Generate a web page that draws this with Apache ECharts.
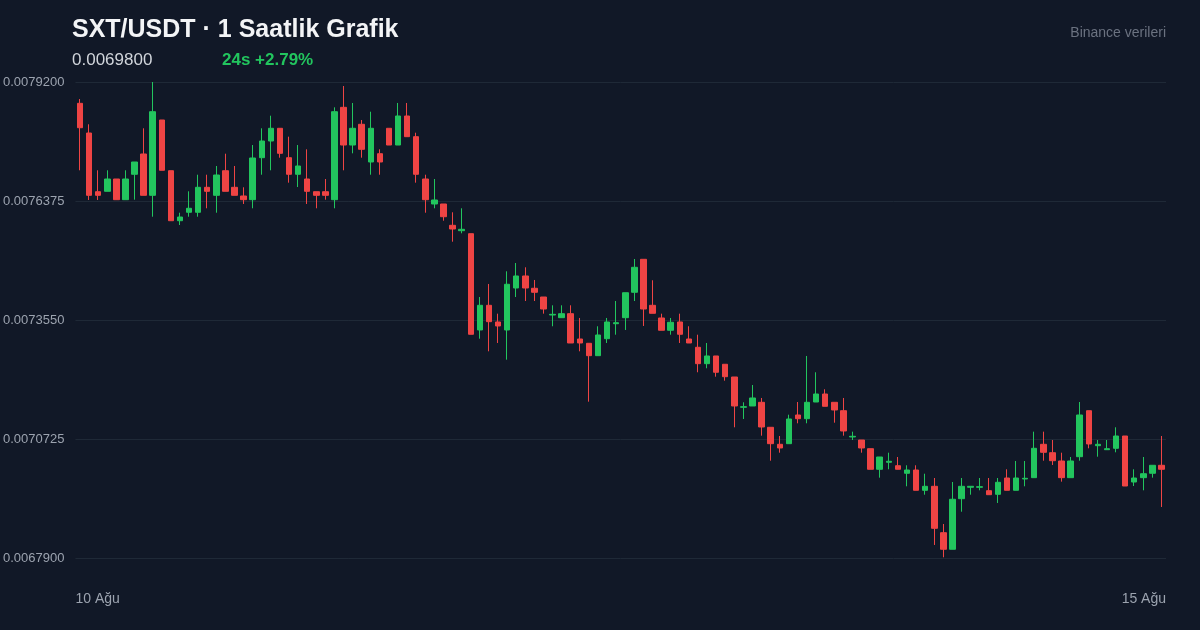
<!DOCTYPE html>
<html>
<head>
<meta charset="utf-8">
<script src="https://cdn.jsdelivr.net/npm/echarts@6/dist/echarts.min.js"></script>
<style>
html,body{margin:0;padding:0;background:#111827;}
#chart{width:1200px;height:630px;}
</style>
</head>
<body>
<div id="chart"></div>
<script>
// ---- data (hourly candles, 10 Ağu -> 15 Ağu) ----
const opens = [
0.0078694,0.0077989,0.0076596,0.0076605,0.0076897,0.0076406,0.0077009,0.0077491,0.0076510,0.0078298,
0.0077094,0.0075907,0.0076107,0.0076107,0.0076700,0.0076510,0.0077094,0.0076700,0.0076494,0.0076406,
0.0077403,0.0077799,0.0078101,0.0077403,0.0077009,0.0076897,0.0076596,0.0076596,0.0076406,0.0078599,
0.0077704,0.0078196,0.0077301,0.0077498,0.0078101,0.0077704,0.0078393,0.0077902,0.0076897,0.0076304,
0.0076304,0.0075798,0.0075670,0.0075599,0.0073313,0.0073899,0.0073503,0.0073313,0.0074310,0.0074595,
0.0074303,0.0074096,0.0073669,0.0073605,0.0073700,0.0073099,0.0072997,0.0072703,0.0073106,0.0073462,
0.0073605,0.0074208,0.0074991,0.0073899,0.0073598,0.0073306,0.0073503,0.0073099,0.0072902,0.0072513,
0.0072696,0.0072499,0.0072197,0.0071478,0.0071509,0.0071596,0.0071003,0.0070599,0.0070614,0.0071295,
0.0071207,0.0071603,0.0071793,0.0071596,0.0071397,0.0070773,0.0070701,0.0070495,0.0070006,0.0070172,
0.0070091,0.0069911,0.0069989,0.0069507,0.0069602,0.0068501,0.0068107,0.0069308,0.0069579,0.0069579,
0.0069498,0.0069412,0.0069799,0.0069507,0.0069776,0.0069807,0.0070599,0.0070400,0.0070203,0.0069807,
0.0070305,0.0071397,0.0070566,0.0070471,0.0070504,0.0070796,0.0069704,0.0069807,0.0069911,0.0070101
];
const closes = [
0.0078115,0.0076510,0.0076510,0.0076897,0.0076406,0.0076897,0.0077301,0.0076510,0.0078495,0.0077104,
0.0075907,0.0075995,0.0076202,0.0076700,0.0076605,0.0076992,0.0076605,0.0076510,0.0076406,0.0077396,
0.0077799,0.0078101,0.0077507,0.0077009,0.0077206,0.0076605,0.0076510,0.0076510,0.0078495,0.0077704,
0.0078101,0.0077602,0.0078101,0.0077301,0.0077704,0.0078393,0.0077902,0.0077009,0.0076406,0.0076399,
0.0076002,0.0075710,0.0075703,0.0073211,0.0073899,0.0073510,0.0073408,0.0074398,0.0074595,0.0074310,
0.0074208,0.0073811,0.0073685,0.0073700,0.0073004,0.0073004,0.0072703,0.0073194,0.0073503,0.0073486,
0.0074198,0.0074801,0.0073811,0.0073709,0.0073306,0.0073496,0.0073211,0.0073004,0.0072513,0.0072696,
0.0072309,0.0072204,0.0071509,0.0071492,0.0071699,0.0071010,0.0070614,0.0070512,0.0071200,0.0071207,
0.0071596,0.0071793,0.0071501,0.0071414,0.0070915,0.0070789,0.0070512,0.0070006,0.0070298,0.0070196,
0.0070006,0.0069989,0.0069507,0.0069602,0.0068605,0.0068107,0.0069294,0.0069602,0.0069602,0.0069593,
0.0069403,0.0069697,0.0069507,0.0069799,0.0069792,0.0070504,0.0070409,0.0070210,0.0069807,0.0070203,
0.0071295,0.0070607,0.0070599,0.0070495,0.0070796,0.0069609,0.0069799,0.0069901,0.0070101,0.0070006
];
const lows = [
0.0077104,0.0076399,0.0076399,0.0076605,0.0076406,0.0076406,0.0076406,0.0076510,0.0076002,0.0077104,
0.0075907,0.0075805,0.0076002,0.0076002,0.0076202,0.0076097,0.0076605,0.0076510,0.0076304,0.0076202,
0.0076999,0.0077104,0.0077403,0.0076810,0.0076707,0.0076304,0.0076202,0.0076406,0.0076202,0.0077104,
0.0077507,0.0077403,0.0076999,0.0076999,0.0077704,0.0077704,0.0077902,0.0076810,0.0076097,0.0076202,
0.0075907,0.0075409,0.0075608,0.0073211,0.0073106,0.0072807,0.0073004,0.0072608,0.0074096,0.0074001,
0.0074001,0.0073700,0.0073401,0.0073605,0.0073004,0.0072807,0.0071611,0.0072703,0.0073004,0.0073201,
0.0073313,0.0074001,0.0073408,0.0073709,0.0073306,0.0073201,0.0073004,0.0073004,0.0072309,0.0072404,
0.0072204,0.0072109,0.0071003,0.0071200,0.0071509,0.0070804,0.0070210,0.0070400,0.0070614,0.0071098,
0.0071098,0.0071603,0.0071501,0.0071112,0.0070804,0.0070701,0.0070400,0.0070006,0.0069807,0.0070006,
0.0070006,0.0069602,0.0069507,0.0069403,0.0068209,0.0067917,0.0068107,0.0068999,0.0069403,0.0069507,
0.0069403,0.0069206,0.0069507,0.0069507,0.0069602,0.0069807,0.0070210,0.0070108,0.0069712,0.0069807,
0.0070210,0.0070504,0.0070305,0.0070471,0.0070409,0.0069609,0.0069609,0.0069507,0.0069807,0.0069111
];
const highs = [
0.0078796,0.0078196,0.0077104,0.0077104,0.0076897,0.0077104,0.0077301,0.0078101,0.0079200,0.0078298,
0.0077094,0.0076097,0.0076605,0.0076999,0.0076999,0.0077206,0.0077498,0.0077206,0.0076700,0.0077704,
0.0078101,0.0078400,0.0078101,0.0077902,0.0077704,0.0077602,0.0076596,0.0076897,0.0078599,0.0079105,
0.0078702,0.0078298,0.0078495,0.0077602,0.0078101,0.0078702,0.0078702,0.0077996,0.0076999,0.0076897,
0.0076304,0.0076107,0.0076202,0.0075599,0.0074096,0.0074405,0.0073700,0.0074706,0.0074903,0.0074801,
0.0074500,0.0074096,0.0073899,0.0073899,0.0073899,0.0073598,0.0072997,0.0073401,0.0073598,0.0074001,
0.0074198,0.0074998,0.0074991,0.0074493,0.0073700,0.0073598,0.0073700,0.0073401,0.0073201,0.0073004,
0.0072696,0.0072499,0.0072197,0.0071596,0.0072007,0.0071699,0.0071003,0.0070796,0.0071302,0.0071603,
0.0072696,0.0072309,0.0071905,0.0071596,0.0071699,0.0070899,0.0070701,0.0070495,0.0070298,0.0070400,
0.0070298,0.0070101,0.0070101,0.0069901,0.0069799,0.0068707,0.0069704,0.0069799,0.0069602,0.0069799,
0.0069799,0.0069799,0.0070006,0.0070203,0.0070203,0.0070899,0.0070899,0.0070701,0.0070400,0.0070298,
0.0071603,0.0071397,0.0070701,0.0070701,0.0071003,0.0070796,0.0070006,0.0070298,0.0070101,0.0070796
];
const xTickLabels = ['10 Ağu', '15 Ağu'];
const yMin = 0.0067900, yMax = 0.0079200, yStep = 0.0002825;
const titleText = 'SXT/USDT · 1 Saatlik Grafik';
const lastPrice = '0.0069800';
const change24h = '24s +2.79%';
const sourceText = 'Binance verileri';

// hourly category keys
const categories = opens.map((_, i) => 'h' + i);
const candleData = opens.map((o, i) => [o, closes[i], lows[i], highs[i]]);

const FONT = 'Liberation Sans, Arial, Helvetica, sans-serif';
const UP = '#22c55e', DOWN = '#ef4444';

const chart = echarts.init(document.getElementById('chart'), null, {renderer: 'canvas'});
chart.setOption({
  backgroundColor: '#111827',
  animation: false,
  textStyle: {fontFamily: FONT},
  title: [
    {text: titleText, left: 72, top: 15, padding: 0,
     textStyle: {color: '#f3f4f6', fontSize: 25, fontWeight: 'bold', fontFamily: FONT, lineHeight: 30}},
    {text: lastPrice, left: 72, top: 50, padding: 0,
     textStyle: {color: '#d1d5db', fontSize: 17, fontWeight: 'normal', fontFamily: FONT, lineHeight: 20}},
    {text: change24h, left: 222, top: 50, padding: 0,
     textStyle: {color: UP, fontSize: 17, fontWeight: 'bold', fontFamily: FONT, lineHeight: 20}},
    {text: sourceText, right: 34, top: 24, padding: 0,
     textStyle: {color: '#6b7280', fontSize: 14, fontWeight: 'normal', fontFamily: FONT, lineHeight: 18}}
  ],
  grid: {left: 72, right: 34, top: 82, bottom: 72, containLabel: false},
  xAxis: [
    {type: 'category', data: categories, boundaryGap: true,
     axisLine: {show: false}, axisTick: {show: false}, axisLabel: {show: false}, splitLine: {show: false}},
    {type: 'category', data: xTickLabels, boundaryGap: false, position: 'bottom', gridIndex: 0,
     axisLine: {show: false}, axisTick: {show: false}, splitLine: {show: false},
     axisLabel: {show: true, color: '#9ca3af', fontSize: 14, fontFamily: FONT, margin: 34,
                 interval: 0, alignMinLabel: 'left', alignMaxLabel: 'right'}}
  ],
  yAxis: {
    type: 'value', min: yMin, max: yMax, interval: yStep, scale: true,
    axisLine: {show: false}, axisTick: {show: false},
    axisLabel: {color: '#9ca3af', fontSize: 13, fontFamily: FONT, margin: 11,
                formatter: v => v.toFixed(7)},
    splitLine: {lineStyle: {color: '#1f2937', width: 1}}
  },
  series: [{
    type: 'candlestick',
    xAxisIndex: 0,
    data: candleData,
    barWidth: 6,
    itemStyle: {color: UP, color0: DOWN, borderColor: UP, borderColor0: DOWN, borderWidth: 1}
  }]
});
</script>
</body>
</html>
